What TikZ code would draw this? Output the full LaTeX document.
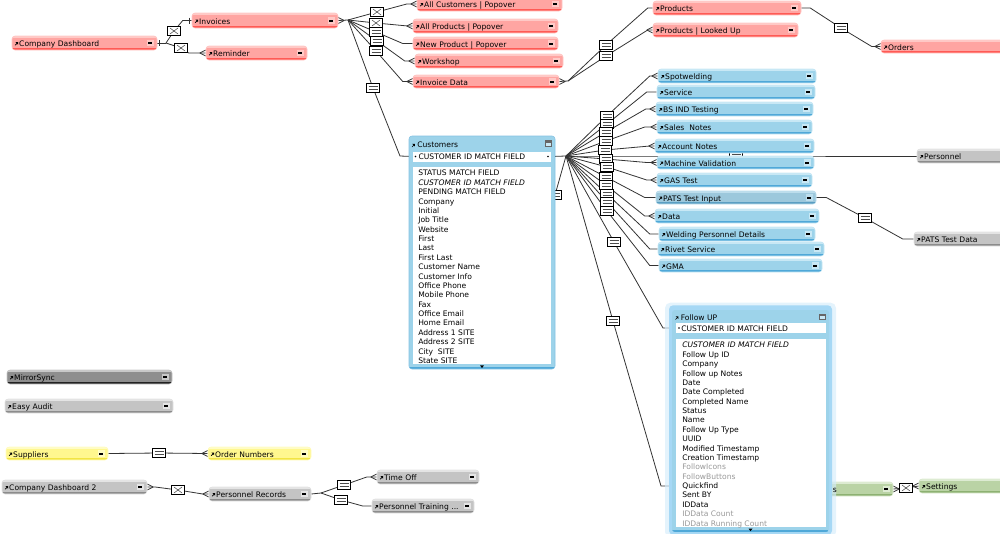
\documentclass[tikz,border=0pt]{standalone}
\usepackage{fontspec}
\setmainfont{DejaVu Sans}
\usetikzlibrary{calc}
\pgfdeclarelayer{conn}
\pgfsetlayers{conn,main}
\definecolor{redA}{HTML}{FFC9C6}\definecolor{redB}{HTML}{FFA5A2}\definecolor{redC}{HTML}{FF5A55}
\definecolor{bluA}{HTML}{C8E8F5}\definecolor{bluB}{HTML}{9DD3EA}\definecolor{bluC}{HTML}{4FA8D8}
\definecolor{patA}{HTML}{BCDDEC}\definecolor{patB}{HTML}{9CC8DC}\definecolor{patC}{HTML}{5A9EC2}
\definecolor{graA}{HTML}{E4E4E4}\definecolor{graB}{HTML}{C4C4C4}\definecolor{graC}{HTML}{8C8C8C}
\definecolor{draA}{HTML}{C8C8C8}\definecolor{draB}{HTML}{8E8E8E}\definecolor{draC}{HTML}{222222}
\definecolor{yelA}{HTML}{FFFCC4}\definecolor{yelB}{HTML}{FFF78F}\definecolor{yelC}{HTML}{F2E443}
\definecolor{greA}{HTML}{DDEBD2}\definecolor{greB}{HTML}{BAD3A5}\definecolor{greC}{HTML}{8DB172}
\definecolor{lineC}{HTML}{333333}
\definecolor{glowA}{HTML}{D5ECFB}\definecolor{glowB}{HTML}{A6D8F5}
\definecolor{fadeT}{HTML}{999999}
\def\ppb{path picture bounding box}
\tikzset{
  x=0.75pt,y=-0.75pt,
  fnt/.style={font=\fontsize{5.7}{7.03}\selectfont},
  conn/.style={draw=lineC,line width=0.6pt},
  tblbox/.style={rounded corners=2.2pt,inner xsep=0pt,inner ysep=0pt,fnt,align=left,text height=6.6pt,text depth=1pt},
  rel/.style={draw=black,fill=white,line width=0.6pt,minimum width=9.75pt,minimum height=7pt,inner sep=0pt},
  releq/.style={rel,path picture={
    \draw[line width=0.4pt,black!70] ([shift={(-4.5,-1.3)}]\ppb.center) -- ([shift={(4.5,-1.3)}]\ppb.center)
      ([shift={(-4.5,1.3)}]\ppb.center) -- ([shift={(4.5,1.3)}]\ppb.center);}},
  relx/.style={rel,path picture={
    \draw[line width=0.4pt,black!70] ([shift={(-4,-3)}]\ppb.center) -- ([shift={(4,3)}]\ppb.center)
      ([shift={(-4,3)}]\ppb.center) -- ([shift={(4,-3)}]\ppb.center);}},
  whitebox/.style={fill=white,inner ysep=0pt,fnt,align=left},
  listtxt/.style={inner sep=0pt,fnt,align=left,anchor=north west},
  titletxt/.style={fnt,inner sep=0pt,anchor=west,text height=6.2pt,text depth=1pt},
}
% table occurrence: name, x1, y1, x2, y2, label, palette
\newcommand{\tocc}[7]{%
  \pgfmathsetmacro\tw{(#4-#2)*0.75}%
  \pgfmathsetmacro\th{(#5-#3)*0.75}%
  \pgfmathsetmacro\cx{(#2+#4)/2}%
  \pgfmathsetmacro\cy{(#3+#5)/2}%
  \node[tblbox,fill=#7B,draw=#7A,line width=0.4pt,text width=\tw pt,minimum height=\th pt,path picture={
    \begin{scope}[sharp corners]
     \fill[#7A] (\ppb.north west) rectangle ([yshift=-1.8pt]\ppb.north east);
     \fill[#7C] (\ppb.south west) rectangle ([yshift=1.2pt]\ppb.south east);
     \draw[black,line width=0.5pt] ([shift={(3.2,2.2)}]\ppb.west) -- ([shift={(5.2,0.2)}]\ppb.west);
     \fill[black] ([shift={(6,-1)}]\ppb.west) -- ([shift={(3.4,-1)}]\ppb.west) -- ([shift={(6,1.6)}]\ppb.west) -- cycle;
     \fill[#7A] ([shift={(-10.5,-3.4)}]\ppb.east) rectangle ([shift={(-3.5,3.4)}]\ppb.east);
     \fill[black] ([shift={(-9.3,-1)}]\ppb.east) rectangle ([shift={(-4.7,1)}]\ppb.east);
    \end{scope}
  }] (#1) at (\cx,\cy) {\hspace*{5.4pt}#6};}
\newcommand{\crowL}[1]{\draw[conn] ($(#1.west)+(-6,0)$) -- ($(#1.west)+(0,-3)$) ($(#1.west)+(-6,0)$) -- ($(#1.west)+(0,3)$);}
\newcommand{\crowR}[1]{\draw[conn] ($(#1.east)+(6,0)$) -- ($(#1.east)+(0,-3)$) ($(#1.east)+(6,0)$) -- ($(#1.east)+(0,3)$);}
\newcommand{\lnk}[4]{\draw[conn] (#1) -- (#2.center) -- ($(#3.west)+(-#4,0)$) -- (#3.west);}
\begin{document}
\begin{tikzpicture}
\useasboundingbox (0,0) rectangle (1000,533);
% hidden relation boxes (sit behind tables)
\node[releq] (rpers) at (736,156) {};
\node[releq] (rhid) at (555,195) {};
% red
\tocc{cd}{12}{36}{157}{50}{Company Dashboard}{red}
\tocc{inv}{192}{13}{338}{28}{Invoices}{red}
\tocc{rem}{206}{46}{307}{60}{Reminder}{red}
\tocc{allc}{417}{-3}{562}{11}{All Customers | Popover}{red}
\tocc{allp}{413}{19}{558}{33}{All Products | Popover}{red}
\tocc{newp}{413}{37}{558}{50}{New Product | Popover}{red}
\tocc{work}{415}{54}{563}{68}{Workshop}{red}
\tocc{invd}{413}{75}{559}{88}{Invoice Data}{red}
\tocc{prod}{653}{1}{801}{15}{Products}{red}
\tocc{prol}{653}{23}{798}{37}{Products | Looked Up}{red}
\tocc{ord}{881}{40}{1010}{53}{Orders}{red}
% blue
\tocc{spot}{658}{69}{816}{83}{Spotwelding}{blu}
\tocc{serv}{657}{85}{815}{99}{Service}{blu}
\tocc{bsin}{656}{102}{813}{116}{BS IND Testing}{blu}
\tocc{sale}{657}{120}{812}{134}{Sales\ \ Notes}{blu}
\tocc{acct}{655}{139}{814}{153}{Account Notes}{blu}
\tocc{mach}{657}{156}{814}{169}{Machine Validation}{blu}
\tocc{gas}{657}{173}{812}{187}{GAS Test}{blu}
\tocc{pati}{656}{191}{816}{204}{PATS Test Input}{pat}
\tocc{data}{655}{209}{819}{223}{Data}{blu}
\tocc{weld}{659}{227}{815}{241}{Welding Personnel Details}{blu}
\tocc{riv}{658}{242}{824}{256}{Rivet Service}{blu}
\tocc{gma}{659}{259}{822}{272}{GMA}{blu}
% grey
\tocc{pers}{917}{149}{1010}{163}{Personnel}{gra}
\tocc{patd}{914}{232}{1010}{246}{PATS Test Data}{gra}
\tocc{mir}{7}{370}{172}{384}{MirrorSync}{dra}
\tocc{easy}{5}{399}{173}{413}{Easy Audit}{gra}
\tocc{supp}{6}{447}{108}{460}{Suppliers}{yel}
\tocc{ordn}{208}{447}{311}{460}{Order Numbers}{yel}
\tocc{cd2}{2}{480}{147}{494}{Company Dashboard 2}{gra}
\tocc{prec}{209}{487}{311}{501}{Personnel Records}{gra}
\tocc{toff}{377}{470}{479}{484}{Time Off}{gra}
\tocc{ptra}{372}{499}{474}{513}{Personnel Training ...}{gra}
\tocc{sett}{919}{479}{1010}{493}{Settings}{gre}
% green table mostly hidden behind Follow UP
\node[tblbox,fill=greB,draw=greA,line width=0.4pt,minimum width=167.25pt,minimum height=10.5pt,path picture={
  \begin{scope}[sharp corners]
  \fill[greA] (\ppb.north west) rectangle ([yshift=-1.8pt]\ppb.north east);
  \fill[greC] (\ppb.south west) rectangle ([yshift=1.2pt]\ppb.south east);
  \fill[greA] ([shift={(-10.5,-3.4)}]\ppb.east) rectangle ([shift={(-3.5,3.4)}]\ppb.east);
  \fill[black] ([shift={(-9.3,-1)}]\ppb.east) rectangle ([shift={(-4.7,1)}]\ppb.east);
  \end{scope}
}] (hidg) at (781.5,489) {};
% Customers table
\node[rounded corners=2.2pt,fill=bluB,draw=bluC!70,line width=0.4pt,minimum width=109.5pt,minimum height=174.75pt,inner sep=0pt,path picture={
  \begin{scope}[sharp corners]
  \fill[bluC] (\ppb.south west) rectangle ([yshift=1.5pt]\ppb.south east);
  \draw[black,line width=0.5pt] ([shift={(3,11)}]\ppb.north west) -- ([shift={(5,9)}]\ppb.north west);
  \fill[black] ([shift={(5.8,7.8)}]\ppb.north west) -- ([shift={(3.2,7.8)}]\ppb.north west) -- ([shift={(5.8,10.4)}]\ppb.north west) -- cycle;
  \fill[black!60] ([shift={(-10.5,4)}]\ppb.north east) rectangle ([shift={(-3.5,10.5)}]\ppb.north east);
  \fill[bluA] ([shift={(-9.5,6.8)}]\ppb.north east) rectangle ([shift={(-4.5,9.5)}]\ppb.north east);
  \fill[black] ([shift={(-2,-3.6)}]\ppb.south) -- ([shift={(2,-3.6)}]\ppb.south) -- ([shift={(0,-1)}]\ppb.south) -- cycle;
  \end{scope}
}] (cust) at (482,252.5) {};
\node[titletxt] (custt) at (417,144) {Customers};
\node[whitebox,inner xsep=0pt,text width=103.5pt,minimum height=7.5pt,text height=5.4pt,text depth=1pt,path picture={
  \fill[black] ([shift={(2.5,0)}]\ppb.west) circle (0.8);
  \fill[black] ([shift={(-3,0)}]\ppb.east) circle (0.8);
}] (cmat) at (482,156.5) {\hspace*{4.2pt}CUSTOMER ID MATCH FIELD};
\node[whitebox,minimum width=103.5pt,minimum height=147.75pt] (clistb) at (482,265.5) {};
\node[listtxt] (clist) at (418,170) {%
STATUS MATCH FIELD\\
\textit{CUSTOMER ID MATCH FIELD}\\
PENDING MATCH FIELD\\
Company\\
Initial\\
Job Title\\
Website\\
First\\
Last\\
First Last\\
Customer Name\\
Customer Info\\
Office Phone\\
Mobile Phone\\
Fax\\
Office Email\\
Home Email\\
Address 1 SITE\\
Address 2 SITE\\
City\ \ SITE\\
State SITE};
% Follow UP table with glow
\node[rounded corners=4pt,fill=glowA,opacity=0.65,minimum width=128.25pt,minimum height=176pt,inner sep=0pt] (fglowa) at (750.5,420) {};
\node[fnt,inner sep=0pt,anchor=west,text height=6.2pt,text depth=1pt] (hidgt) at (832.5,489) {s};
\node[rounded corners=3pt,fill=glowB,minimum width=122.25pt,minimum height=172pt,inner sep=0pt] (fglowb) at (750.5,420) {};
\node[rounded corners=2.2pt,fill=bluB,minimum width=117.75pt,minimum height=166.5pt,inner sep=0pt,path picture={
  \begin{scope}[sharp corners]
  \fill[bluC] (\ppb.south west) rectangle ([yshift=1.5pt]\ppb.south east);
  \draw[black,line width=0.5pt] ([shift={(3.5,9.5)}]\ppb.north west) -- ([shift={(5.5,7.5)}]\ppb.north west);
  \fill[black] ([shift={(6.3,6.3)}]\ppb.north west) -- ([shift={(3.7,6.3)}]\ppb.north west) -- ([shift={(6.3,8.9)}]\ppb.north west) -- cycle;
  \fill[black!60] ([shift={(-10.5,3.5)}]\ppb.north east) rectangle ([shift={(-3.5,10)}]\ppb.north east);
  \fill[bluA] ([shift={(-9.5,6.3)}]\ppb.north east) rectangle ([shift={(-4.5,9)}]\ppb.north east);
  \fill[black] ([shift={(-2,-3.4)}]\ppb.south) -- ([shift={(2,-3.4)}]\ppb.south) -- ([shift={(0,-0.8)}]\ppb.south) -- cycle;
  \end{scope}
}] (fup) at (750.5,421) {};
\node[titletxt] (fupt) at (680.5,317) {Follow UP};
\node[whitebox,inner xsep=0pt,text width=112.5pt,minimum height=7.5pt,text height=6pt,text depth=1pt,path picture={
  \fill[black] ([shift={(3,0)}]\ppb.west) circle (0.8);
}] (fmat) at (751,328) {\hspace*{4pt}CUSTOMER ID MATCH FIELD};
\node[whitebox,minimum width=112.5pt,minimum height=141pt] (flistb) at (751,433) {};
\node[listtxt] (flist) at (682,342) {%
\textit{CUSTOMER ID MATCH FIELD}\\
Follow Up ID\\
Company\\
Follow up Notes\\
Date\\
Date Completed\\
Completed Name\\
Status\\
Name\\
Follow Up Type\\
UUID\\
Modified Timestamp\\
Creation Timestamp\\
\textcolor{fadeT}{FollowIcons}\\
\textcolor{fadeT}{FollowButtons}\\
Quickfind\\
Sent BY\\
IDData\\
\textcolor{fadeT}{IDData Count}\\
\textcolor{fadeT}{IDData Running Count}};
% hubs
\coordinate (hcd) at (166,43);
\coordinate (hinv) at (348,20);
\coordinate (hidat) at (568,81);
\coordinate (hcu) at (566,156);
\coordinate (hrec) at (321,493);
\coordinate (hidend) at (540,250);
\coordinate (grl) at (672,486);
\coordinate (gre) at (661,486);
% relation boxes
\node[relx] (r1) at (174,31) {};
\node[relx] (r2) at (181,48) {};
\node[relx] (r3) at (377,12) {};
\node[relx] (r4) at (376,23) {};
\node[releq] (r5) at (376,32) {};
\node[releq] (r6) at (377,41) {};
\node[releq] (r7) at (376,51) {};
\node[releq] (r8) at (373,88) {};
\node[releq] (r9) at (606,45) {};
\node[releq] (r10) at (606,56) {};
\node[releq] (r11) at (841,28) {};
\node[releq] (b1) at (607,116) {};
\node[releq] (b2) at (607,124) {};
\node[releq] (b3) at (606,132) {};
\node[releq] (b4) at (606,141) {};
\node[releq] (b5) at (605,150) {};
\node[releq] (b6) at (606,159) {};
\node[releq] (b7) at (607,167) {};
\node[releq] (b8) at (606,177) {};
\node[releq] (b9) at (606,185) {};
\node[releq] (b10) at (607,194) {};
\node[releq] (b11) at (607,202) {};
\node[releq] (b12) at (607,211) {};
\node[releq] (b13) at (614,242) {};
\node[releq] (b14) at (613,321) {};
\node[releq] (r12) at (865,218) {};
\node[releq] (r13) at (159,453) {};
\node[relx] (r14) at (178,490) {};
\node[releq] (r15) at (344,485) {};
\node[releq] (r16) at (341,500) {};
\node[relx] (r17) at (906,488) {};
% connectors
\begin{pgfonlayer}{conn}
\draw[conn] (cd.east) -- (hcd);
\lnk{hcd}{r1}{inv}{9}
\lnk{hcd}{r2}{rem}{17}
\draw[conn] ($(cd.east)+(2,-3)$) -- ($(cd.east)+(2,3)$);
\draw[conn] ($(inv.west)+(-2,-3)$) -- ($(inv.west)+(-2,3)$);
\crowL{rem}
\draw[conn] (inv.east) -- (hinv); \crowR{inv}
\lnk{hinv}{r3}{allc}{10} \crowL{allc}
\lnk{hinv}{r4}{allp}{5} \crowL{allp}
\lnk{hinv}{r5}{newp}{10}
\lnk{hinv}{r6}{work}{10} \crowL{work}
\lnk{hinv}{r7}{invd}{10} \crowL{invd}
\draw[conn] (hinv) -- (r8.center) -- (400,156) -- (cmat.west);
\draw[conn] (invd.east) -- (hidat); \crowR{invd}
\lnk{hidat}{r9}{prod}{5}
\lnk{hidat}{r10}{prol}{5} \crowL{prol}
\draw[conn] (prod.east) -- ($(prod.east)+(9,0)$) -- (r11.center) -- ($(ord.west)+(-9,0)$) -- (ord.west); \crowL{ord}
\draw[conn] (cmat.east) -- (hcu);
\lnk{hcu}{b1}{spot}{8} \crowL{spot}
\lnk{hcu}{b2}{serv}{10}
\lnk{hcu}{b3}{bsin}{10} \crowL{bsin}
\lnk{hcu}{b4}{sale}{12} \crowL{sale}
\lnk{hcu}{b5}{acct}{5} \crowL{acct}
\lnk{hcu}{b6}{mach}{10} \crowL{mach}
\lnk{hcu}{b7}{gas}{10} \crowL{gas}
\lnk{hcu}{b8}{pati}{11}
\lnk{hcu}{b9}{data}{10} \crowL{data}
\lnk{hcu}{b10}{weld}{9}
\lnk{hcu}{b11}{riv}{8}
\lnk{hcu}{b12}{gma}{9}
\draw[conn] (hcu) -- (b13.center) -- (663,328) -- (fmat.west);
\draw[conn] (hcu) -- (b14.center) -- (gre) -- (grl);
\draw[conn] (hcu) -- (rhid.center) -- (hidend);
\draw[conn] (hcu) -- (rpers.center) -- (pers.west);
\draw[conn] (pati.east) -- ($(pati.east)+(10,0)$) -- (r12.center) -- ($(patd.west)+(-11,0)$) -- (patd.west);
\draw[conn] (supp.east) -- (r13.center) -- (ordn.west); \crowL{ordn}
\draw[conn] (cd2.east) -- ($(cd2.east)+(8,0)$) -- (r14.center) -- ($(prec.west)+(-6,0)$) -- (prec.west); \crowR{cd2} \crowL{prec}
\draw[conn] (prec.east) -- (hrec);
\lnk{hrec}{r15}{toff}{10} \crowL{toff}
\lnk{hrec}{r16}{ptra}{9}
\draw[conn] (hidg.east) -- (r17.center) -- (sett.west); \crowR{hidg} \crowL{sett}
\end{pgfonlayer}
\end{tikzpicture}
\end{document}
